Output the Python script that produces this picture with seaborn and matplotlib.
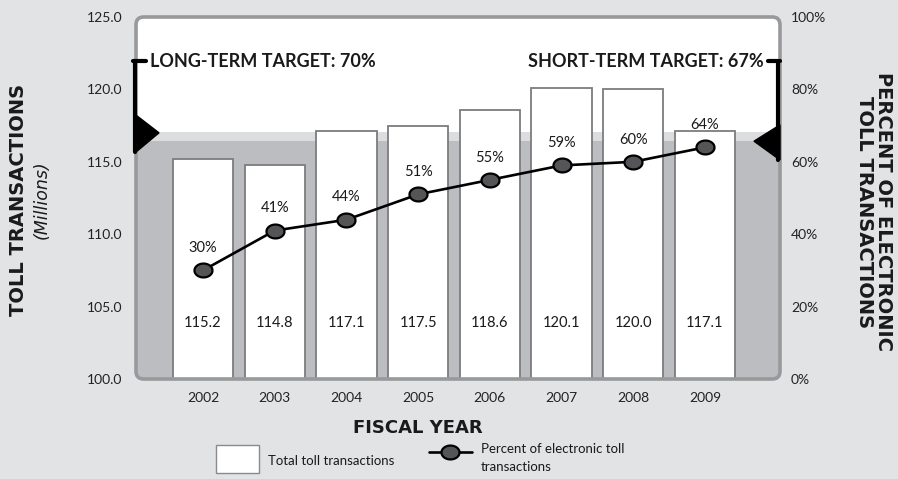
import numpy as np
import pandas as pd
import seaborn as sns
import matplotlib.pyplot as plt
from matplotlib.patches import FancyBboxPatch, Polygon, Rectangle
from matplotlib.lines import Line2D

# data
years = ["2002", "2003", "2004", "2005", "2006", "2007", "2008", "2009"]
total_transactions = [115.2, 114.8, 117.1, 117.5, 118.6, 120.1, 120.0, 117.1]
electronic_pct = [30, 41, 44, 51, 55, 59, 60, 64]
left_ticks = [100, 105, 110, 115, 120, 125]
right_ticks = [0, 20, 40, 60, 80, 100]
long_term_target = 70
short_term_target = 67

BG = "#e2e3e4"
DARK = "#bcbdc1"
BAND = "#dcdddf"
FRAME = "#98999b"
TITLE_FONT = ["DejaVu Sans"]

sns.set_theme(style="white")
plt.rcParams['font.family'] = ['Lato', 'DejaVu Sans']
plt.rcParams['text.color'] = '#1a1a1a'

df = pd.DataFrame({"year": years, "total": total_transactions, "pct": electronic_pct})
df["pos"] = np.arange(len(years))

fig = plt.figure(figsize=(8.98, 4.79), dpi=100, facecolor=BG)
ax = fig.add_axes([136 / 898, 100 / 479, 644 / 898, 362 / 479])
ax.patch.set_visible(False)

# rounded frame with white top and grey lower area
fill = FancyBboxPatch((0, 0), 1, 1, boxstyle="round,pad=0,rounding_size=0.012",
                      mutation_aspect=644 / 362, transform=ax.transAxes,
                      facecolor="white", edgecolor="none", zorder=0)
ax.add_patch(fill)
s1 = ax.axhspan(100, 116.45, color=DARK, zorder=0.5, lw=0)
s2 = ax.axhspan(116.45, 117.06, color=BAND, zorder=0.5, lw=0)
s1.set_clip_path(fill)
s2.set_clip_path(fill)

sns.barplot(data=df, x="year", y="total", ax=ax, color="white", saturation=1,
            edgecolor="#7c7c7e", linewidth=1.3, width=0.84, zorder=2)

border = FancyBboxPatch((0, 0), 1, 1, boxstyle="round,pad=0,rounding_size=0.012",
                        mutation_aspect=644 / 362, transform=ax.transAxes,
                        facecolor="none", edgecolor=FRAME, lw=2.6, zorder=5,
                        clip_on=False)
ax.add_patch(border)

ax.set_ylim(100, 125)
ax.set_yticks(left_ticks)
ax.set_yticklabels([f"{v:.1f}" for v in left_ticks])
ax.tick_params(axis="y", length=0, pad=10, labelsize=10, labelcolor="#222222")
ax.tick_params(axis="x", length=0, pad=9, labelsize=10, labelcolor="#222222")
ax.set_xlabel("")
ax.set_ylabel("")
for s in ax.spines.values():
    s.set_visible(False)

for i, v in enumerate(total_transactions):
    ax.text(i, 103.9, f"{v:.1f}", ha="center", va="center", fontsize=10.5, zorder=4)

# percent line on the right axis
ax2 = ax.twinx()
theta = np.linspace(0, 2 * np.pi, 48)
ellipse = list(zip(1.3 * np.cos(theta), np.sin(theta)))
sns.lineplot(data=df, x="pos", y="pct", ax=ax2, color="black", lw=1.9,
             marker=ellipse, markersize=13, markerfacecolor="#555557",
             markeredgecolor="black", markeredgewidth=1.6)
for i, p in enumerate(electronic_pct):
    ax2.annotate(f"{p}%", (i, p), xytext=(0, 16), textcoords="offset points",
                 ha="center", va="center", fontsize=10.5)
ax2.set_ylim(0, 100)
ax2.set_yticks(right_ticks)
ax2.set_yticklabels([f"{v}%" for v in right_ticks])
ax2.tick_params(axis="y", length=0, pad=8, labelsize=10, labelcolor="#222222")
ax2.set_xlabel("")
ax2.set_ylabel("")
for s in ax2.spines.values():
    s.set_visible(False)
ax.set_xlim(-0.934, 8.046)

# target brackets
tr = ax.transAxes
ax2.add_line(Line2D([-0.002, -0.002], [0.878, 0.627], transform=tr, color="black", lw=3, clip_on=False, zorder=6))
ax2.add_line(Line2D([-0.004, 0.0155], [0.878, 0.878], transform=tr, color="black", lw=3, clip_on=False, zorder=6))
ax2.add_patch(Polygon([(0, 0.729), (0.0357, 0.680), (0, 0.627)], closed=True, transform=tr,
                      color="black", clip_on=False, zorder=6))
ax2.text(0.0225, 0.878, f"LONG-TERM TARGET: {long_term_target}%", transform=tr,
         ha="left", va="center", fontsize=13, fontweight="bold")

ax2.add_line(Line2D([0.9975, 0.9975], [0.878, 0.605], transform=tr, color="black", lw=3, clip_on=False, zorder=6))
ax2.add_line(Line2D([0.981, 1.0], [0.878, 0.878], transform=tr, color="black", lw=3, clip_on=False, zorder=6))
ax2.add_patch(Polygon([(1.0, 0.702), (0.9596, 0.657), (1.0, 0.605)], closed=True, transform=tr,
                      color="black", clip_on=False, zorder=6))
ax2.text(0.9745, 0.878, f"SHORT-TERM TARGET: {short_term_target}%", transform=tr,
         ha="right", va="center", fontsize=13, fontweight="bold")

# axis titles
fig.text(19 / 898, 1 - 200 / 479, "TOLL TRANSACTIONS", rotation=90, ha="center", va="center",
         fontsize=14, fontweight="bold", family=TITLE_FONT)
fig.text(42 / 898, 1 - 200 / 479, "(Millions)", rotation=90, ha="center", va="center",
         fontsize=12.5, style="italic", family=TITLE_FONT)
fig.text(874 / 898, 1 - 212 / 479, "PERCENT OF ELECTRONIC\nTOLL TRANSACTIONS", rotation=270,
         ha="center", va="center", multialignment="center", fontsize=14,
         fontweight="bold", linespacing=1.05, family=TITLE_FONT)
fig.text(418 / 898, 1 - 428 / 479, "FISCAL YEAR", ha="center", va="center",
         fontsize=13, fontweight="bold", family=TITLE_FONT)

# legend
fig.patches.append(Rectangle((216 / 898, 1 - 473 / 479), 43 / 898, 28 / 479,
                             transform=fig.transFigure, facecolor="white",
                             edgecolor="#8a8a8a", lw=1.0))
fig.text(268 / 898, 1 - 461 / 479, "Total toll transactions", ha="left", va="center", fontsize=9.5)
fig.lines.append(Line2D([429 / 898, 472 / 898], [1 - 452 / 479, 1 - 452 / 479],
                        transform=fig.transFigure, color="black", lw=1.9))
fig.lines.append(Line2D([450 / 898], [1 - 452 / 479], transform=fig.transFigure,
                        marker=ellipse, markersize=13, markerfacecolor="#555557",
                        markeredgecolor="black", markeredgewidth=1.6, lw=0))
fig.text(481 / 898, 1 - 443 / 479, "Percent of electronic toll\ntransactions", ha="left",
         va="top", fontsize=9.5, linespacing=1.6)

fig.savefig("out.png", dpi=100, facecolor=BG)
